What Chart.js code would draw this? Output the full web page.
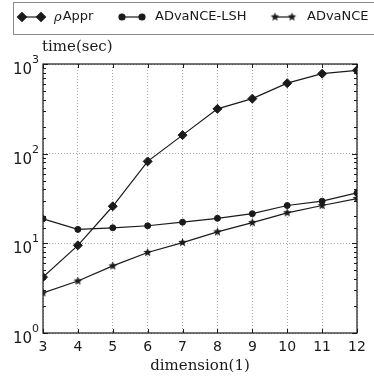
<!DOCTYPE html>
<html>
<head>
<meta charset="utf-8">
<style>
html, body { margin: 0; padding: 0; background: #fff; }
</style>
<script src="https://cdn.jsdelivr.net/npm/chart.js@4.4.0/dist/chart.umd.min.js"></script>
</head>
<body>
<canvas id="chart" width="374" height="378"></canvas>
<script>
// values
var dims = [3, 4, 5, 6, 7, 8, 9, 10, 11, 12];
var rhoAppr = [4.2, 9.5, 25.9, 82, 161, 316, 411, 611, 780, 851];
var advanceLSH = [18.8, 14.3, 14.9, 15.7, 17.2, 19.0, 21.4, 26.4, 29.5, 36.5];
var advance = [2.8, 3.8, 5.6, 7.9, 10.2, 13.4, 17.0, 21.9, 26.4, 31.6];
var seriesNames = ['\u03C1Appr', 'ADvaNCE-LSH', 'ADvaNCE'];
var yMajor = [1, 10, 100, 1000];
var yExponents = ['0', '1', '2', '3'];
var xTitle = 'dimension(1)';
var yTitle = 'time(sec)';

var ink = '#1a1a1a';

// small filled five point star for the ADvaNCE marker
function makeStar(r) {
  var c = document.createElement('canvas');
  c.width = c.height = Math.ceil(r * 2) + 2;
  var g = c.getContext('2d');
  var cx = c.width / 2, cy = c.height / 2;
  g.beginPath();
  for (var i = 0; i < 10; i++) {
    var rad = (i % 2 === 0) ? r : r * 0.45;
    var a = -Math.PI / 2 + i * Math.PI / 5;
    var px = cx + rad * Math.cos(a), py = cy + rad * Math.sin(a);
    if (i === 0) g.moveTo(px, py); else g.lineTo(px, py);
  }
  g.closePath();
  g.fillStyle = ink;
  g.fill();
  return c;
}
var starImg = makeStar(4.5);

function toPoints(arr) {
  return dims.map(function (d, i) { return { x: d, y: arr[i] }; });
}

function isMajor(v) {
  return yMajor.indexOf(v) >= 0;
}

var framePlugin = {
  id: 'frame',
  afterDraw: function (chart) {
    var ctx = chart.ctx;
    var a = chart.chartArea;
    var ys = chart.scales.y, xs = chart.scales.x;
    ctx.save();
    ctx.strokeStyle = ink;
    ctx.lineWidth = 1;
    // inside ticks on y
    ys.ticks.forEach(function (t) {
      var py = Math.round(ys.getPixelForValue(t.value)) + 0.5;
      var len = isMajor(t.value) ? 5 : 3;
      ctx.beginPath();
      ctx.moveTo(a.left, py); ctx.lineTo(a.left + len, py);
      ctx.moveTo(a.right, py); ctx.lineTo(a.right - len, py);
      ctx.stroke();
    });
    xs.ticks.forEach(function (t) {
      var px = Math.round(xs.getPixelForValue(t.value)) + 0.5;
      ctx.beginPath();
      ctx.moveTo(px, a.bottom); ctx.lineTo(px, a.bottom - 4);
      ctx.moveTo(px, a.top); ctx.lineTo(px, a.top + 4);
      ctx.stroke();
    });
    ctx.lineWidth = 1.2;
    ctx.strokeRect(a.left, a.top, a.right - a.left, a.bottom - a.top);

    // y tick labels as 10 with a raised exponent
    ctx.fillStyle = ink;
    ctx.textAlign = 'right';
    ctx.textBaseline = 'alphabetic';
    yMajor.forEach(function (v, k) {
      var py = ys.getPixelForValue(v);
      ctx.font = '11px "DejaVu Sans"';
      var ew = ctx.measureText(yExponents[k]).width;
      ctx.fillText(yExponents[k], 39, py - 1);
      ctx.font = '15px "DejaVu Sans"';
      ctx.fillText('10', 39 - ew, py + 10);
    });

    // y axis title above the plot
    ctx.font = '15px "DejaVu Serif"';
    ctx.textAlign = 'left';
    ctx.fillText(yTitle, a.left - 1, 51);

    // legend box
    ctx.strokeStyle = '#8a8a8a';
    ctx.lineWidth = 1;
    ctx.strokeRect(13.5, 2.5, 372, 32);
    var slots = [{ m1: 22, m2: 41, tx: 54 }, { m1: 122, m2: 142, tx: 155 }, { m1: 275, m2: 292, tx: 307 }];
    var ly = 17;
    chart.data.datasets.forEach(function (ds, i) {
      var s = slots[i];
      ctx.strokeStyle = ink;
      ctx.fillStyle = ink;
      ctx.lineWidth = 1.2;
      ctx.beginPath();
      ctx.moveTo(s.m1, ly); ctx.lineTo(s.m2, ly);
      ctx.stroke();
      [s.m1, s.m2].forEach(function (mx) {
        Chart.helpers.drawPoint(ctx, { pointStyle: ds.pointStyle, radius: ds.pointRadius, rotation: 0, borderWidth: 1 }, mx, ly);
      });
      ctx.textBaseline = 'middle';
      if (i === 0) {
        ctx.font = 'italic 13px "DejaVu Serif"';
        ctx.fillText('\u03C1', s.tx, ly + 1);
        var w = ctx.measureText('\u03C1').width;
        ctx.font = '13px "DejaVu Sans"';
        ctx.fillText(seriesNames[0].slice(1), s.tx + w + 1, ly);
      } else {
        ctx.font = '13px "DejaVu Sans"';
        ctx.fillText(seriesNames[i], s.tx, ly);
      }
    });
    ctx.restore();
  }
};

function series(label, arr, style, radius) {
  return {
    label: label,
    data: toPoints(arr),
    borderColor: ink,
    backgroundColor: ink,
    borderWidth: 1.2,
    pointStyle: style,
    pointRadius: radius,
    pointHoverRadius: radius,
    pointBorderWidth: 1,
    pointBorderColor: ink,
    pointBackgroundColor: ink,
    tension: 0
  };
}

new Chart(document.getElementById('chart'), {
  type: 'line',
  data: {
    datasets: [
      series(seriesNames[0], rhoAppr, 'rectRot', 4.5),
      series(seriesNames[1], advanceLSH, 'circle', 3),
      series(seriesNames[2], advance, starImg, 4.5)
    ]
  },
  options: {
    responsive: false,
    animation: false,
    layout: { padding: { top: 64, right: 17, bottom: 0, left: 0 } },
    plugins: {
      legend: { display: false },
      tooltip: { enabled: false }
    },
    scales: {
      x: {
        type: 'linear',
        min: 3,
        max: 12,
        ticks: {
          stepSize: 1,
          color: ink,
          padding: 6,
          font: { family: 'DejaVu Sans', size: 14 },
          maxRotation: 0
        },
        grid: { color: '#a8a8a8', lineWidth: 1, drawTicks: false },
        border: { display: false, dash: [1, 2] },
        title: {
          display: true,
          text: xTitle,
          color: ink,
          font: { family: 'DejaVu Serif', size: 15 },
          padding: { top: 0, bottom: 3 }
        },
        afterFit: function (s) { s.height = 45; }
      },
      y: {
        type: 'logarithmic',
        min: 1,
        max: 1000,
        ticks: {
          autoSkip: false,
          // labels are drawn by the frame plugin with raised exponents
          callback: function () { return ''; }
        },
        grid: {
          drawTicks: false,
          lineWidth: 1,
          color: function (c) {
            return c.tick && isMajor(c.tick.value) ? '#a8a8a8' : 'rgba(0,0,0,0)';
          }
        },
        border: { display: false, dash: [1, 2] },
        afterFit: function (s) { s.width = 43; }
      }
    }
  },
  plugins: [framePlugin]
});
</script>
</body>
</html>
